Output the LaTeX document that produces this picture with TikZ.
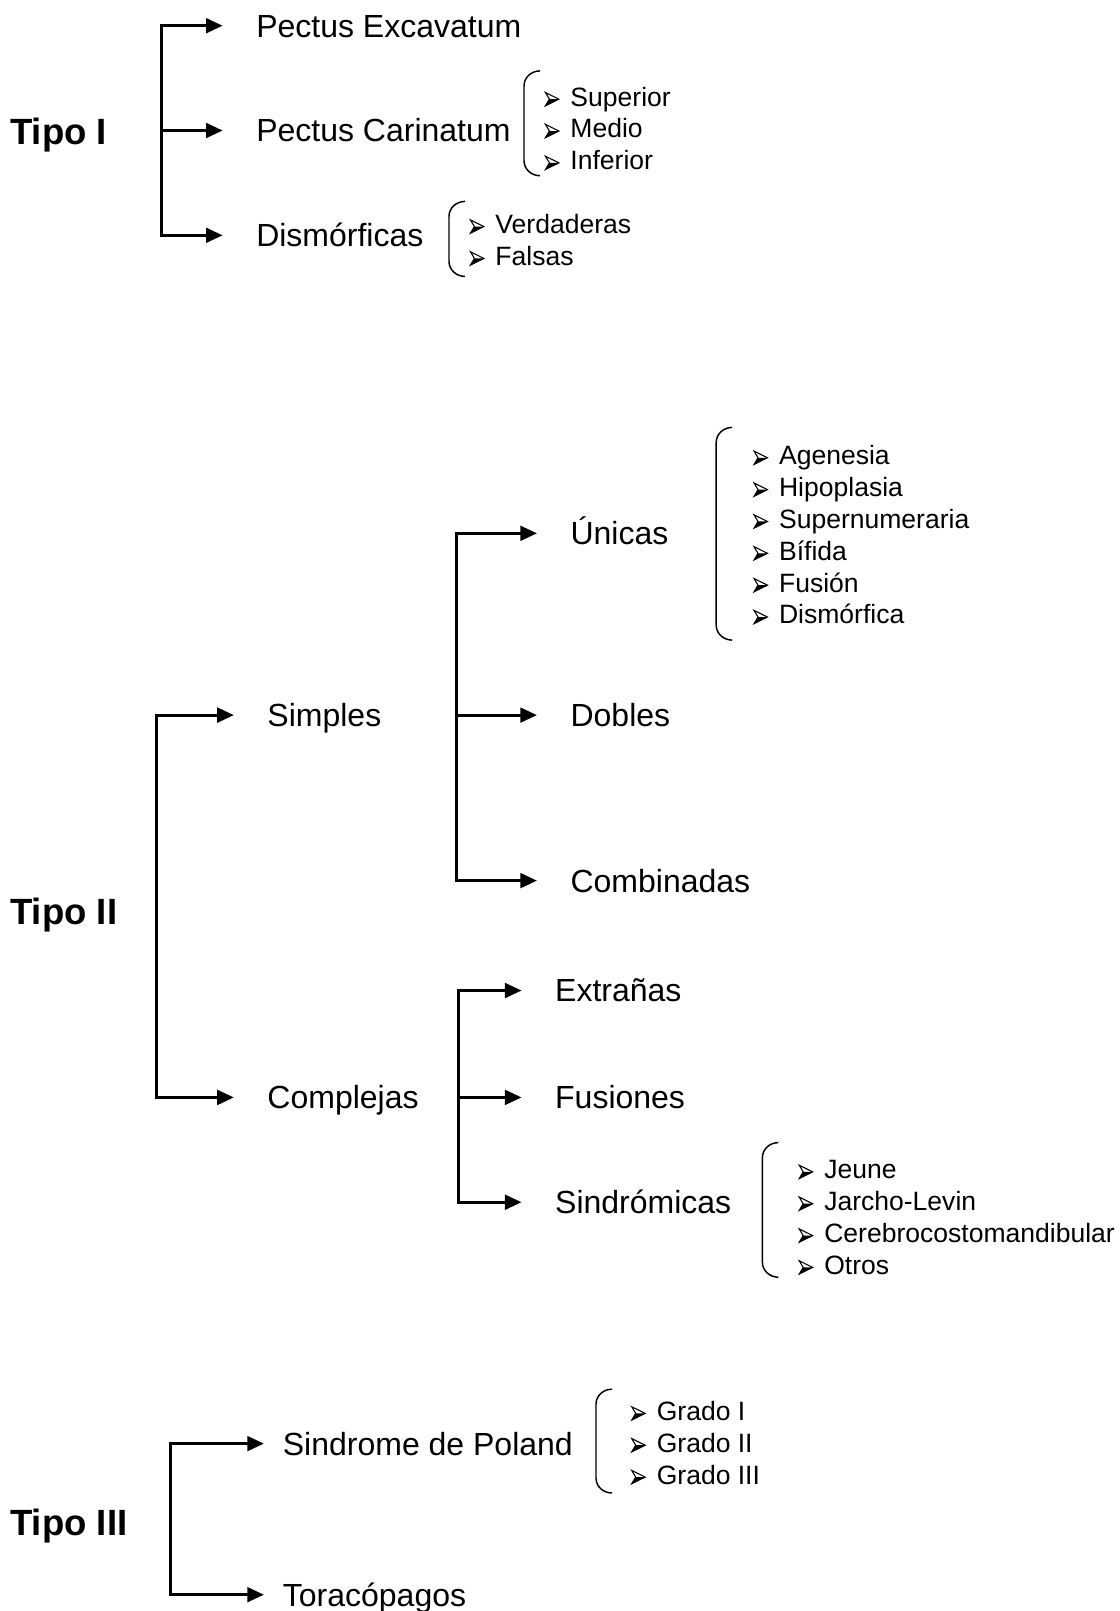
\documentclass[tikz,border=0pt]{standalone}
\usepackage{fontspec}
\setmainfont{Liberation Sans}
\usetikzlibrary{arrows.meta}
\tikzset{
  tipo/.style={anchor=west, inner sep=0pt, font=\fontsize{27.4}{30}\selectfont\bfseries,
    text height=19.6pt, text depth=0pt},
  rama/.style={anchor=west, inner sep=0pt, font=\fontsize{24}{28}\selectfont,
    text height=17.2pt, text depth=0pt},
  item/.style={anchor=west, inner sep=0pt, font=\fontsize{19.9}{22}\selectfont,
    text height=14.25pt, text depth=0pt},
  tronco/.style={line width=2.25pt, line cap=rect},
  flecha/.style={-{Triangle[length=12.5pt,width=11pt]}, line width=2.25pt, shorten >=25pt},
  llave/.style={line width=1.1pt},
}
\newcommand\bala{\makebox[19.2pt][l]{\tikz[baseline=0pt, x=1pt, y=1pt, line join=miter]{%
  \draw[line width=0.8pt] (0.4,10.2) -- (10.5,5.2) -- (0.4,0.2) -- (3.4,5.2) -- cycle;
  \fill (0.4,0.2) -- (10.5,5.2) -- (3.4,5.2) -- cycle;}}}
\newcommand\llave[3]{\draw[llave] (#1+16,#2) to[out=180,in=90] (#1,#2+15) -- (#1,#3-15) to[out=-90,in=180] (#1+16,#3);}
\begin{document}
\begin{tikzpicture}[x=0.75pt, y=-0.75pt]
  \useasboundingbox (0,0) rectangle (1120,1611);
  % Tipo I
  \node[tipo] (t1) at (10,131) {Tipo I};
  \coordinate (j1a) at (161.5,25.7);
  \coordinate (j1b) at (161.5,130.5);
  \coordinate (j1c) at (161.5,235.3);
  \node[rama] (pe) at (256,25.7) {Pectus Excavatum};
  \node[rama] (pc) at (256,130.5) {Pectus Carinatum};
  \node[rama] (dm) at (256,235.3) {Dismórficas};
  \draw[tronco] (j1a) -- (j1c);
  \foreach \n/\j in {pe/j1a, pc/j1b, dm/j1c}
    \draw[flecha] (\j) -- (\n);
  \llave{524}{70.9}{175.7}
  \foreach \t [count=\i from 0] in {Superior,Medio,Inferior}
    \node[item] (pc\i) at (544.6,96.6+31.85*\i) {\bala\t};
  \llave{449}{201.4}{276.4}
  \foreach \t [count=\i from 0] in {Verdaderas,Falsas}
    \node[item] (dm\i) at (469.6,224+31.85*\i) {\bala\t};

  % Tipo II
  \node[tipo] (t2) at (10,911.4) {Tipo II};
  \coordinate (j2a) at (156.2,715.1);
  \coordinate (j2b) at (156.2,1097.4);
  \node[rama] (si) at (267.2,715.1) {Simples};
  \node[rama] (co) at (267.2,1097.4) {Complejas};
  \draw[tronco] (j2a) -- (j2b);
  \foreach \n/\j in {si/j2a, co/j2b}
    \draw[flecha] (\j) -- (\n);
  % Simples
  \coordinate (s1) at (456.2,533.3);
  \coordinate (s2) at (456.2,715.1);
  \coordinate (s3) at (456.2,880.6);
  \node[rama] (un) at (570.3,533.3) {Únicas};
  \node[rama] (db) at (570.3,715.1) {Dobles};
  \node[rama] (cb) at (570.3,880.6) {Combinadas};
  \draw[tronco] (s1) -- (s3);
  \foreach \n/\j in {un/s1, db/s2, cb/s3}
    \draw[flecha] (\j) -- (\n);
  \llave{716.2}{427.4}{640.1}
  \foreach \t [count=\i from 0] in {Agenesia,Hipoplasia,Supernumeraria,Bífida,Fusión,Dismórfica}
    \node[item] (un\i) at (753.2,455.2+31.85*\i) {\bala\t};
  % Complejas
  \coordinate (c1) at (458.3,990.5);
  \coordinate (c2) at (458.3,1097.4);
  \coordinate (c3) at (458.3,1202.2);
  \node[rama] (ex) at (554.9,990.5) {Extrañas};
  \node[rama] (fu) at (554.9,1097.4) {Fusiones};
  \node[rama] (sd) at (554.9,1202.2) {Sindrómicas};
  \draw[tronco] (c1) -- (c3);
  \foreach \n/\j in {ex/c1, fu/c2, sd/c3}
    \draw[flecha] (\j) -- (\n);
  \llave{762.4}{1142.6}{1277.2}
  \foreach \t [count=\i from 0] in {Jeune,Jarcho-Levin,Cerebrocostomandibular,Otros}
    \node[item] (sd\i) at (798.4,1169.3+31.85*\i) {\bala\t};

  % Tipo III
  \node[tipo] (t3) at (10,1522.8) {Tipo III};
  \coordinate (j3a) at (170.6,1443.6);
  \coordinate (j3b) at (170.6,1594.7);
  \node[rama] (po) at (282.6,1443.6) {Sindrome de Poland};
  \node[rama] (to) at (282.6,1594.7) {Toracópagos};
  \draw[tronco] (j3a) -- (j3b);
  \foreach \n/\j in {po/j3a, to/j3b}
    \draw[flecha, shorten >=14pt] (\j) -- (\n);
  \llave{596}{1389.2}{1493}
  \foreach \t [count=\i from 0] in {Grado I,Grado II,Grado III}
    \node[item] (po\i) at (630.9,1410.8+31.85*\i) {\bala\t};
\end{tikzpicture}
\end{document}
